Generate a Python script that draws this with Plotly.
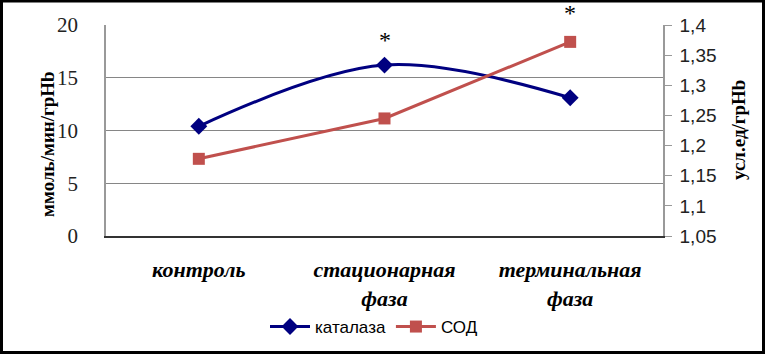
import plotly.graph_objects as go

categories = ["контроль", "стационарная<br>фаза", "терминальная<br>фаза"]
catalase = [10.4, 16.2, 13.1]
sod = [1.178, 1.245, 1.372]
left_ticks = [0, 5, 10, 15, 20]
left_max = 20
right_ticks = [1.05, 1.1, 1.15, 1.2, 1.25, 1.3, 1.35, 1.4]
star_x = [1, 2]
star_y = [18.6, 21.1]

L, R, T, B = 106, 663, 25, 237
W, H = 765, 356
pw, ph = R - L, B - T

def px(x):
    return (x - L) / pw

def py(y):
    return (B - y) / ph

xs = list(range(len(categories)))

fig = go.Figure()
fig.add_trace(go.Scatter(
    x=xs, y=catalase, name="каталаза", mode="lines+markers",
    line=dict(color="#000080", width=3, shape="spline", smoothing=1),
    marker=dict(symbol="diamond", size=13, color="#000080"),
    yaxis="y"))
fig.add_trace(go.Scatter(
    x=xs, y=sod, name="СОД", mode="lines+markers",
    line=dict(color="#C0504D", width=3),
    marker=dict(symbol="square", size=12, color="#C0504D"),
    yaxis="y2"))

for sx, sy in zip(star_x, star_y):
    fig.add_annotation(x=sx, y=sy / left_max, xref="x", yref="paper", text="*",
                       showarrow=False, yanchor="middle",
                       font=dict(family="Liberation Serif", size=24, color="#000"))

fig.add_annotation(x=px(35), y=py(145), xref="paper", yref="paper",
                   text="<b>ммоль/мин/грHb</b>",
                   textangle=-90, showarrow=False,
                   font=dict(family="Liberation Serif", size=19, color="#000"))
fig.add_annotation(x=px(751), y=py(131), xref="paper", yref="paper",
                   text="<b>усл.ед/грHb</b>", textangle=-90, showarrow=False,
                   font=dict(family="Liberation Serif", size=19, color="#000"))

fig.add_shape(type="rect", xref="paper", yref="paper",
              x0=px(1.5), x1=px(763.5), y0=py(354), y1=py(1),
              line=dict(color="black", width=3), fillcolor="rgba(0,0,0,0)")

fig.update_layout(
    width=W, height=H,
    margin=dict(l=L, r=W - R, t=T, b=H - B),
    paper_bgcolor="white", plot_bgcolor="white",
    separators=", ",
    showlegend=True,
    legend=dict(orientation="h", x=px(374), y=py(327), xanchor="center", yanchor="middle",
                font=dict(family="Liberation Sans", size=17, color="#000"),
                itemwidth=40, tracegroupgap=0, bgcolor="rgba(0,0,0,0)"),
    xaxis=dict(
        tickmode="array", tickvals=xs, ticktext=categories,
        range=[-0.5, 2.5], showgrid=False, zeroline=False,
        showline=True, linecolor="#333", linewidth=1.5,
        ticks="", ticklabelstandoff=13,
        tickfont=dict(family="Liberation Serif", size=22, color="#000",
                      style="italic", weight="bold"),
        fixedrange=True),
    yaxis=dict(
        range=[0, left_max], tickvals=left_ticks, showgrid=True,
        gridcolor="#868686", gridwidth=1.3, zeroline=False,
        showline=True, linecolor="#999", linewidth=1.5,
        ticks="", ticklabelstandoff=22,
        tickfont=dict(family="Liberation Serif", size=21, color="#222")),
    yaxis2=dict(
        range=[1.05, 1.4], tickvals=right_ticks, overlaying="y", side="right",
        showgrid=False, zeroline=False,
        showline=True, linecolor="#999", linewidth=1.5,
        ticks="outside", ticklen=7, tickcolor="#999", tickwidth=1,
        ticklabelstandoff=4,
        tickfont=dict(family="Liberation Sans", size=19, color="#222")),
)

fig.write_html("out.html")
